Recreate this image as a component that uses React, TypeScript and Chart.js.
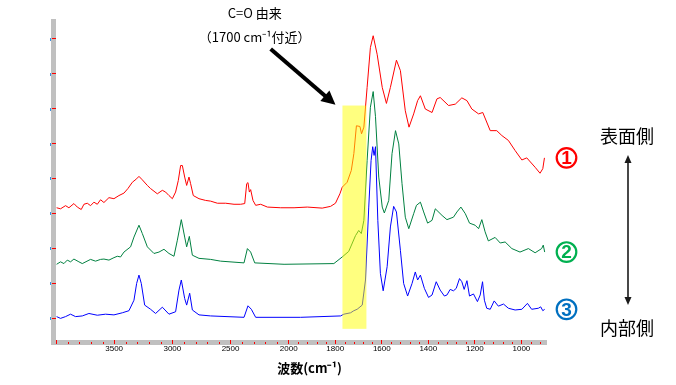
import React, { useEffect, useRef } from 'react';
import { Chart, registerables, LinearScale } from 'chart.js';

Chart.register(...registerables);

// ---------- data ----------
const redWn = [
  3995, 3961, 3918, 3889, 3846, 3817, 3783, 3760, 3731, 3703,
  3674, 3645, 3617, 3588, 3545, 3502, 3459, 3416, 3382, 3344,
  3307, 3287, 3258, 3215, 3187, 3129, 3086, 3058, 3029, 3000,
  2972, 2949, 2929, 2914, 2894, 2877, 2857, 2843, 2820, 2771,
  2714, 2671, 2613, 2542, 2470, 2413, 2378, 2361, 2350, 2338,
  2327, 2307, 2284, 2241, 2183, 2069, 1977, 1920, 1856, 1820,
  1799, 1780, 1770, 1749, 1731, 1720,
  1709, 1694, 1687, 1677, 1663, 1649, 1637, 1620, 1598, 1580,
  1563, 1537, 1520, 1499, 1483, 1463, 1446, 1434, 1413, 1384,
  1363, 1349, 1313, 1284, 1256, 1234, 1213, 1184, 1166, 1134,
  1106, 1084, 1056, 1027, 998, 977, 941, 920, 908, 901,
];
const redAbs = [
  3.16, 3.13, 3.22, 3.16, 3.28, 3.18, 3.11, 3.26, 3.29, 3.22,
  3.32, 3.26, 3.39, 3.31, 3.45, 3.42, 3.51, 3.58, 3.71, 3.89,
  3.99, 4.06, 3.96, 3.80, 3.71, 3.56, 3.66, 3.61, 3.51, 3.42,
  3.61, 3.94, 4.37, 4.37, 4.04, 3.80, 4.04, 3.85, 3.51, 3.42,
  3.37, 3.35, 3.29, 3.29, 3.26, 3.26, 3.28, 3.85, 3.88, 3.61,
  3.68, 3.37, 3.23, 3.26, 3.18, 3.16, 3.16, 3.18, 3.15, 3.20,
  3.29, 3.56, 3.75, 3.89, 4.23, 4.71,
  5.51, 5.49, 5.28, 5.47, 6.61, 7.75, 8.09, 7.56, 6.61, 6.15,
  6.61, 7.39, 7.09, 5.94, 5.47, 5.85, 6.23, 6.37, 5.99, 5.89,
  6.28, 6.32, 6.09, 6.13, 6.31, 6.23, 5.99, 5.85, 5.89, 5.37,
  5.37, 5.23, 5.09, 4.80, 4.53, 4.59, 4.32, 4.15, 4.28, 4.59,
];

const greenWn = [
  3995, 3961, 3932, 3903, 3875, 3846, 3803, 3774, 3703, 3660,
  3617, 3588, 3545, 3502, 3473, 3445, 3416, 3359, 3330, 3287,
  3258, 3215, 3158, 3115, 3072, 3029, 2986, 2957, 2923, 2894,
  2877, 2854, 2828, 2771, 2671, 2585, 2384, 2355, 2327, 2292,
  2040, 1806, 1770, 1742, 1713, 1699, 1688, 1677, 1663, 1649,
  1637, 1627, 1613, 1598, 1589, 1570, 1556, 1541, 1527, 1513,
  1499, 1484, 1463, 1451, 1434, 1420, 1403, 1384, 1370, 1341,
  1320, 1292, 1277, 1260, 1241, 1223, 1199, 1184, 1170, 1156,
  1142, 1113, 1091, 1070, 1041, 1006, 970, 941, 913, 906,
  900,
];
const greenAbs = [
  1.54, 1.61, 1.56, 1.66, 1.61, 1.69, 1.61, 1.56, 1.68, 1.63,
  1.68, 1.69, 1.66, 1.73, 1.77, 1.75, 1.89, 2.04, 2.32, 2.66,
  2.42, 2.04, 1.85, 1.89, 1.97, 1.85, 1.77, 2.23, 2.82, 2.32,
  2.04, 2.34, 1.80, 1.71, 1.68, 1.63, 1.58, 1.99, 1.89, 1.58,
  1.54, 1.56, 1.75, 1.91, 2.36, 2.51, 2.42, 2.80, 4.51, 6.04,
  6.49, 5.77, 4.04, 3.18, 3.01, 3.37, 4.71, 5.37, 4.99, 3.85,
  2.89, 2.56, 2.99, 3.23, 3.32, 3.04, 2.72, 2.80, 3.13, 2.94,
  2.82, 2.89, 3.04, 3.18, 2.99, 2.72, 2.66, 2.56, 2.82, 2.47,
  2.21, 2.31, 2.15, 2.18, 1.99, 1.89, 1.99, 1.87, 1.99, 2.09,
  1.89,
];

const blueWn = [
  3995, 3961, 3918, 3875, 3832, 3774, 3717, 3645, 3574, 3502,
  3430, 3373, 3330, 3307, 3287, 3267, 3238, 3187, 3144, 3086,
  3029, 2972, 2943, 2923, 2894, 2877, 2851, 2828, 2771, 2671,
  2384, 2350, 2321, 2284, 1949, 1777, 1763, 1734, 1720, 1706,
  1684, 1670, 1656, 1646, 1639, 1633, 1627, 1617, 1606, 1594,
  1577, 1563, 1549, 1537, 1520, 1506, 1489, 1470, 1456, 1446,
  1434, 1417, 1399, 1384, 1366, 1349, 1331, 1320, 1306, 1292,
  1280, 1266, 1256, 1246, 1234, 1223, 1206, 1189, 1177, 1167,
  1159, 1149, 1134, 1117, 1099, 1077, 1056, 1027, 998, 974,
  956, 927, 917, 908, 900,
];
const blueAbs = [
  0.04, -0.01, 0.04, 0.11, 0.04, 0.06, 0.13, 0.08, 0.11, 0.09,
  0.15, 0.21, 0.51, 0.99, 1.23, 0.99, 0.37, 0.25, 0.13, 0.31,
  0.11, 0.18, 0.80, 1.09, 0.56, 0.37, 0.71, 0.23, 0.09, 0.06,
  0.02, 0.35, 0.25, 0.02, 0.02, 0.06, 0.11, 0.15, 0.21, 0.25,
  0.37, 1.09, 3.18, 4.51, 4.91, 4.66, 4.91, 2.80, 1.28, 0.78,
  1.47, 2.61, 3.20, 3.04, 1.94, 0.99, 0.63, 0.99, 1.32, 1.09,
  1.23, 0.85, 0.59, 0.66, 1.04, 0.80, 0.63, 0.66, 0.82, 0.78,
  0.85, 1.13, 1.04, 0.82, 1.07, 0.63, 0.69, 0.47, 0.66, 1.04,
  0.51, 0.28, 0.25, 0.49, 0.34, 0.40, 0.28, 0.23, 0.25, 0.42,
  0.25, 0.28, 0.32, 0.21, 0.25,
];

const seriesLabels = ['①', '②', '③'];
const seriesColors = ['#ff0000', '#008040', '#0000ff'];
const markerColors = ['#ff0000', '#00b050', '#0070c0'];

const xMajorTicks = [4000, 3500, 3000, 2500, 2000, 1800, 1600, 1400, 1200, 1000];
const xLabelTicks = [3500, 3000, 2500, 2000, 1800, 1600, 1400, 1200, 1000];
const yTicks = [0, 1, 2, 3, 4, 5, 6, 7, 8];

const X_MIN = 890;
const X_MAX = 4000;
const Y_MIN = -0.63;
const Y_MAX = 8.57;

const bandWn = [1769, 1666];
const bandAbs = [-0.31, 6.09];
const arrowTail = [2155, 7.71];
const arrowTip = [1799, 6.11];

const annotationLines = ['C=O 由来', '（1700 cm⁻¹付近）'];
const xTitle = '波数(cm⁻¹)';
const sideTop = '表面側';
const sideBottom = '内部側';

// ---------- split (compressed above 2000) wavenumber scale ----------
const BREAK = 2000;
function warp(v: number) {
  return v <= BREAK ? v : BREAK + (v - BREAK) / 2;
}
function unwarp(w: number) {
  return w <= BREAK ? w : BREAK + (w - BREAK) * 2;
}

class SplitWavenumberScale extends LinearScale {
  static id = 'splitWavenumber';
  static defaults = {};
  getPixelForValue(value: any) {
    if (value === null || value === undefined || isNaN(value)) return NaN;
    const a = warp(this.max);
    const b = warp(this.min);
    const dec = (a - warp(value)) / (a - b);
    return this.getPixelForDecimal(dec);
  }
  getValueForPixel(pixel: number) {
    const dec = this.getDecimalForPixel(pixel);
    const a = warp(this.max);
    const b = warp(this.min);
    return unwarp(a - dec * (a - b));
  }
}
Chart.register(SplitWavenumberScale as any);

function toPoints(wn: number[], abs: number[]) {
  return wn.map((x, i) => ({ x, y: abs[i] }));
}

const decorPlugin = {
  id: 'decor',
  beforeDraw(chart: any) {
    const { ctx, chartArea: a } = chart;
    ctx.save();
    ctx.fillStyle = '#c0c0c0';
    ctx.fillRect(a.left - 5, a.top, 5, a.bottom + 5 - a.top);
    ctx.fillRect(a.left - 5, a.bottom, a.right - a.left + 5, 5);
    ctx.restore();
  },
  afterDraw(chart: any) {
    const { ctx, chartArea: a } = chart;
    const xs = chart.scales.x;
    const ys = chart.scales.y;
    ctx.save();

    // minor x ticks
    ctx.fillStyle = '#ff0000';
    const minors: number[] = [];
    for (let v = 3900; v > 2000; v -= 100) if (v % 500 !== 0) minors.push(v);
    for (let v = 1960; v > X_MIN; v -= 40) if (v % 200 !== 0) minors.push(v);
    minors.forEach((v) => {
      const px = Math.round(xs.getPixelForValue(v));
      ctx.fillRect(px, a.bottom + 2, 1, 2);
    });

    // small blue marks left of y axis
    ctx.fillStyle = '#3d8fe0';
    yTicks.forEach((v) => {
      const py = Math.round(ys.getPixelForValue(v));
      ctx.fillRect(a.left - 6, py - 1, 1, 3);
    });

    // yellow highlight band
    const bx1 = xs.getPixelForValue(bandWn[0]);
    const bx2 = xs.getPixelForValue(bandWn[1]);
    const by1 = ys.getPixelForValue(bandAbs[1]);
    const by2 = ys.getPixelForValue(bandAbs[0]);
    ctx.fillStyle = 'rgba(255,255,0,0.5)';
    ctx.fillRect(bx1, by1, bx2 - bx1, by2 - by1);

    // black arrow
    const tx = xs.getPixelForValue(arrowTail[0]);
    const ty = ys.getPixelForValue(arrowTail[1]);
    const hx = xs.getPixelForValue(arrowTip[0]);
    const hy = ys.getPixelForValue(arrowTip[1]);
    const len = Math.hypot(hx - tx, hy - ty);
    const ux = (hx - tx) / len;
    const uy = (hy - ty) / len;
    const headLen = 14;
    const headHalf = 7;
    const cx = hx - ux * headLen;
    const cy = hy - uy * headLen;
    ctx.strokeStyle = '#000';
    ctx.lineWidth = 4;
    ctx.beginPath();
    ctx.moveTo(tx, ty);
    ctx.lineTo(cx + ux * 2, cy + uy * 2);
    ctx.stroke();
    ctx.fillStyle = '#000';
    ctx.beginPath();
    ctx.moveTo(hx, hy);
    ctx.lineTo(cx - uy * headHalf, cy + ux * headHalf);
    ctx.lineTo(cx + uy * headHalf, cy - ux * headHalf);
    ctx.closePath();
    ctx.fill();

    // annotation text
    ctx.fillStyle = '#000';
    ctx.font = '13px "Noto Sans CJK JP", sans-serif';
    ctx.textAlign = 'center';
    ctx.textBaseline = 'middle';
    ctx.fillText(annotationLines[0], tx - 16, 13);
    ctx.fillText(annotationLines[1], tx - 16, 37);

    // x title
    ctx.font = 'bold 13px "Noto Sans CJK JP", sans-serif';
    ctx.fillText(xTitle, (a.left + a.right) / 2 + 8, 368);

    // circled series markers
    const lasts = [redAbs[redAbs.length - 1], greenAbs[greenAbs.length - 1], blueAbs[blueAbs.length - 1]];
    lasts.forEach((v, i) => {
      const px = a.right + 19.5;
      const py = ys.getPixelForValue(v);
      ctx.strokeStyle = markerColors[i];
      ctx.lineWidth = 2.2;
      ctx.beginPath();
      ctx.arc(px, py, 9.8, 0, Math.PI * 2);
      ctx.stroke();
      ctx.fillStyle = markerColors[i];
      ctx.font = 'bold 19px "Liberation Sans", Arial, sans-serif';
      ctx.textAlign = 'center';
      ctx.textBaseline = 'middle';
      ctx.fillText(String(i + 1), px, py + 1);
    });

    // side labels + double arrow
    const sx = a.right + 81;
    ctx.fillStyle = '#000';
    ctx.font = '18px "Noto Sans CJK JP", sans-serif';
    ctx.textAlign = 'center';
    ctx.textBaseline = 'middle';
    ctx.fillText(sideTop, sx - 1, 136);
    ctx.fillText(sideBottom, sx - 1, 328);
    ctx.strokeStyle = '#1a1a1a';
    ctx.lineWidth = 1.6;
    ctx.beginPath();
    ctx.moveTo(sx, 160);
    ctx.lineTo(sx, 300);
    ctx.stroke();
    ctx.fillStyle = '#1a1a1a';
    ctx.beginPath();
    ctx.moveTo(sx, 155);
    ctx.lineTo(sx - 3.5, 163);
    ctx.lineTo(sx + 3.5, 163);
    ctx.closePath();
    ctx.fill();
    ctx.beginPath();
    ctx.moveTo(sx, 305);
    ctx.lineTo(sx - 3.5, 297);
    ctx.lineTo(sx + 3.5, 297);
    ctx.closePath();
    ctx.fill();

    ctx.restore();
  },
};

export default function App() {
  const ref = useRef<HTMLCanvasElement>(null);
  useEffect(() => {
    document.body.style.margin = '0';
    const canvas = ref.current!;
    const chart = new Chart(canvas, {
      type: 'line',
      data: {
        datasets: [
          { label: seriesLabels[0], data: toPoints(redWn, redAbs), borderColor: seriesColors[0] },
          { label: seriesLabels[1], data: toPoints(greenWn, greenAbs), borderColor: seriesColors[1] },
          { label: seriesLabels[2], data: toPoints(blueWn, blueAbs), borderColor: seriesColors[2] },
        ].map((d) => ({ ...d, borderWidth: 1, pointRadius: 0, tension: 0, fill: false })),
      },
      options: {
        animation: false,
        responsive: false,
        devicePixelRatio: 1,
        layout: { padding: { top: 19, right: 129, left: 0, bottom: 0 } },
        plugins: { legend: { display: false }, tooltip: { enabled: false } },
        scales: {
          x: {
            type: 'splitWavenumber' as any,
            min: X_MIN,
            max: X_MAX,
            bounds: 'data',
            border: { display: false },
            grid: { drawOnChartArea: false, drawTicks: true, tickLength: 4, tickColor: '#ff0000', tickWidth: 1 },
            ticks: {
              autoSkip: false,
              maxRotation: 0,
              minRotation: 0,
              padding: 0,
              color: '#000',
              font: { size: 8, family: '"Liberation Sans", Arial, sans-serif' },
              callback: (v: any) => (xLabelTicks.includes(Number(v)) ? String(v) : ''),
            },
            afterBuildTicks: (s: any) => {
              s.ticks = xMajorTicks.map((v) => ({ value: v }));
            },
            afterFit: (s: any) => {
              s.height = 45;
            },
          } as any,
          y: {
            type: 'linear',
            min: Y_MIN,
            max: Y_MAX,
            border: { display: false },
            grid: { drawOnChartArea: false, drawTicks: true, tickLength: 4, tickColor: '#ff0000', tickWidth: 1 },
            ticks: { display: false },
            afterBuildTicks: (s: any) => {
              s.ticks = yTicks.map((v) => ({ value: v }));
            },
            afterFit: (s: any) => {
              s.width = 56;
            },
          } as any,
        },
      },
      plugins: [decorPlugin],
    });
    return () => chart.destroy();
  }, []);
  return (
    <div style={{ width: 676, height: 385 }}>
      <canvas ref={ref} width={676} height={385} style={{ display: 'block', width: 676, height: 385 }} />
    </div>
  );
}
